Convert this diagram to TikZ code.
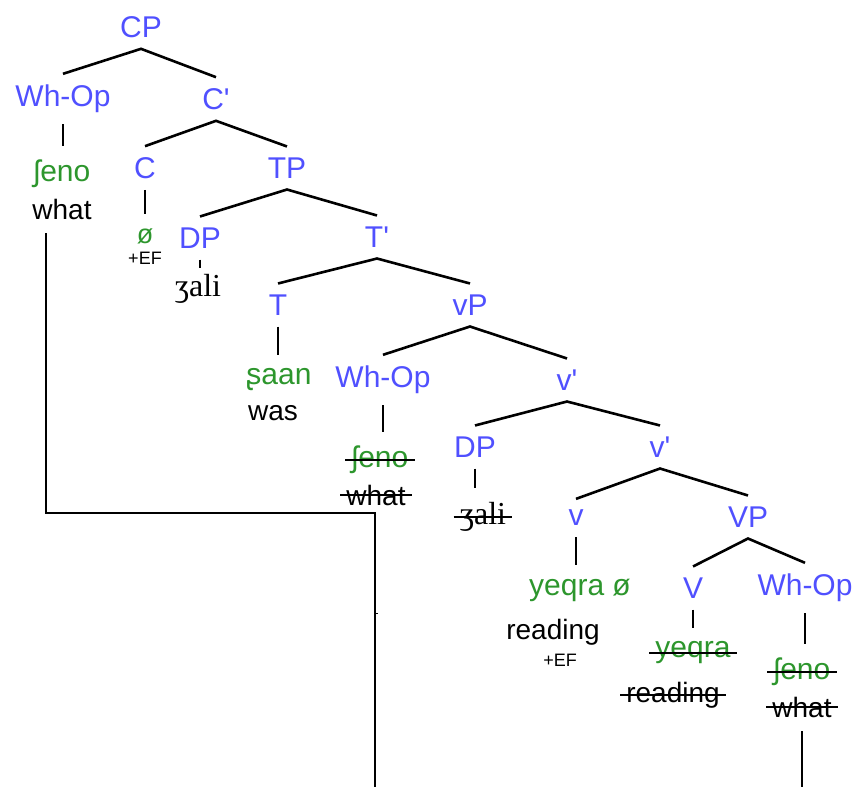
\documentclass[tikz,border=0pt]{standalone}
\usepackage{fontspec}
\setmainfont{Liberation Sans}
\newfontfamily\ipaserif{Liberation Serif}
\definecolor{catblue}{RGB}{80,80,255}
\definecolor{wordgreen}{RGB}{45,150,45}

\begin{document}
\begin{tikzpicture}[x=1pt,y=-1pt,
    cat/.style={text=catblue,font=\fontsize{30}{34}\selectfont,inner xsep=0pt,inner ysep=11pt},
    word/.style={text=wordgreen,font=\fontsize{30}{34}\selectfont,inner xsep=6pt,inner ysep=14pt},
    gloss/.style={font=\fontsize{28}{32}\selectfont,inner xsep=6pt,inner ysep=14pt},
    dpword/.style={font=\fontsize{32}{34}\ipaserif,inner xsep=6pt,inner ysep=14pt},
    feat/.style={font=\fontsize{18}{20}\selectfont,inner sep=0pt},
    branch/.style={line width=2.6pt},
    stem/.style={line width=1.6pt},
    strike/.style={line width=1.6pt},
    movepath/.style={line width=1.8pt}]
    \useasboundingbox (0,0) rectangle (859,787);

    % categories
    \node[cat] (cp) at (141,27) {CP};
    \node[cat] (whop1) at (63,99) {Wh-Op};
    \node[cat] (cbar) at (216,99) {C\textquotesingle};
    \node[cat] (c) at (145,168) {C};
    \node[cat] (tp) at (287,168) {TP};
    \node[cat] (dp1) at (200,238) {DP};
    \node[cat] (tbar) at (377,237) {T\textquotesingle};
    \node[cat] (t) at (278,305) {T};
    \node[cat] (vp) at (470,305) {vP};
    \node[cat] (whop2) at (383,380) {Wh-Op};
    \node[cat] (vbar1) at (567,380) {v\textquotesingle};
    \node[cat] (dp2) at (475,447) {DP};
    \node[cat] (vbar2) at (660,447) {v\textquotesingle};
    \node[cat] (v) at (576,518) {v};
    \node[cat] (bigvp) at (748,517) {VP};
    \node[cat] (bigv) at (693,588) {V};
    \node[cat] (whop3) at (805,588) {Wh-Op};

    % words and glosses
    \node[word] (sheno1) at (62,174) {ʃeno};
    \node[gloss] (what1) at (62,209) {what};
    \node[word,font=\fontsize{27}{28}\selectfont] (null1) at (145,236) {ø};
    \node[feat] (ef1) at (145,258) {+EF};
    \node[dpword,inner ysep=6pt] (ali1) at (198,289) {ʒali};
    \node[word] (kaan) at (279,380) {ʂaan};
    \node[gloss] (was) at (273,413) {was};
    \node[word] (sheno2) at (380,460) {ʃeno};
    \node[gloss] (what2) at (376,495) {what};
    \node[dpword] (ali2) at (483,517) {ʒali};
    \node[word] (yeqra1) at (580,590) {yeqra ø};
    \node[gloss] (reading1) at (553,632) {reading};
    \node[feat] (ef2) at (560,660) {+EF};
    \node[word] (yeqra2) at (693,653) {yeqra};
    \node[gloss] (reading2) at (673,695) {reading};
    \node[word] (sheno3) at (802,672) {ʃeno};
    \node[gloss] (what3) at (802,707) {what};

    % branches
    \draw[branch] (whop1.north) -- (cp.south) -- (cbar.north);
    \draw[branch] (c.north) -- (cbar.south) -- (tp.north);
    \draw[branch] (dp1.north) -- (tp.south) -- (tbar.north);
    \draw[branch] (t.north) -- (tbar.south) -- (vp.north);
    \draw[branch] (whop2.north) -- (vp.south) -- (vbar1.north);
    \draw[branch] (dp2.north) -- (vbar1.south) -- (vbar2.north);
    \draw[branch] (v.north) -- (vbar2.south) -- (bigvp.north);
    \draw[branch] (bigv.north) -- (bigvp.south) -- (whop3.north);

    % unary stems, kept upright under the mother
    \draw[stem] (whop1.south) -- (whop1.south |- sheno1.north);
    \draw[stem] (c.south) -- (c.south |- null1.north);
    \draw[stem] (dp1.south) -- (dp1.south |- ali1.north);
    \draw[stem] (t.south) -- (t.south |- kaan.north);
    \draw[stem] (whop2.south) -- (whop2.south |- sheno2.north);
    \draw[stem] (dp2.south) -- (dp2.south |- ali2.north);
    \draw[stem] (v.south) -- (v.south |- yeqra1.north);
    \draw[stem] (bigv.south) -- (bigv.south |- yeqra2.north);
    \draw[stem] (whop3.south) -- (whop3.south |- sheno3.north);

    % deleted copies
    \foreach \n in {sheno2,what2,ali2,yeqra2,reading2,sheno3,what3}
        \draw[strike] (\n.west) -- (\n.east);

    % movement path
    \coordinate (turn) at (375,513);
    \coordinate (foot) at (375,787);
    \coordinate (nick) at (378,613);
    \draw[movepath] ([xshift=-16pt]what1.south) |- (turn) -- (foot);
    \draw[line width=1pt] (nick -| turn) -- (nick);
    \draw[movepath] (what3.south) -- (what3.south |- foot);
\end{tikzpicture}
\end{document}
